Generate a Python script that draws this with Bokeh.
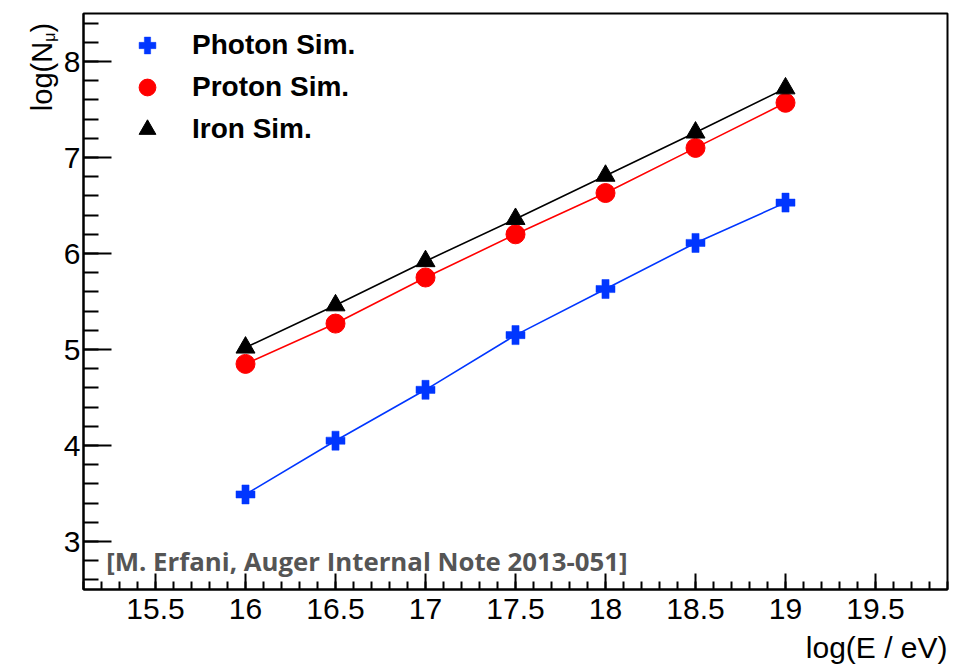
import math
from bokeh.plotting import figure
from bokeh.layouts import row
from bokeh.models import (Label, Legend, LegendItem, SingleIntervalTicker, Title)
from bokeh.embed import file_html
from bokeh.resources import INLINE

# ---- data ----
log_e = [16.0, 16.5, 17.0, 17.5, 18.0, 18.5, 19.0]
photon = [3.49, 4.05, 4.58, 5.15, 5.63, 6.11, 6.53]
proton = [4.85, 5.27, 5.75, 6.20, 6.63, 7.10, 7.57]
iron = [5.02, 5.46, 5.92, 6.36, 6.81, 7.26, 7.72]
series_names = ["Photon Sim.", "Proton Sim.", "Iron Sim."]
x_title = "log(E / eV)"
y_title_main = "log(N"
y_title_sub = "\u03bc"
y_title_close = ")"
note_text = "[M. Erfani, Auger Internal Note 2013-051]"

BLUE = "#0036ff"
RED = "#ff0000"
BLACK = "#000000"
FONT = "Liberation Sans"

YT_W = 60  # width of the strip holding the y-axis title

p = figure(width=953 - YT_W, height=670, x_range=(15.1, 19.9), y_range=(2.5, 8.5),
           output_backend="svg", toolbar_location=None,
           min_border_left=83 - YT_W, min_border_right=6, min_border_top=13,
           min_border_bottom=81)
p.background_fill_color = "white"
p.border_fill_color = "white"
p.grid.visible = False
p.outline_line_color = "black"
p.outline_line_width = 2

# axes
p.xaxis.ticker = SingleIntervalTicker(interval=0.5, num_minor_ticks=5)
p.yaxis.ticker = SingleIntervalTicker(interval=1, num_minor_ticks=5)
for ax in (p.xaxis, p.yaxis):
    ax.axis_line_width = 2
    ax.axis_line_color = "black"
    ax.major_tick_out = 0
    ax.minor_tick_out = 0
    ax.major_tick_line_color = "black"
    ax.minor_tick_line_color = "black"
    ax.major_tick_line_width = 2
    ax.minor_tick_line_width = 2
    ax.major_label_text_font = FONT
    ax.major_label_text_font_size = "30px"
    ax.major_label_text_color = "black"
p.xaxis.major_tick_in = 16
p.xaxis.minor_tick_in = 8
p.yaxis.major_tick_in = 28
p.yaxis.minor_tick_in = 15
p.xaxis.major_label_standoff = 9
p.yaxis.major_label_standoff = 3

# lines
p.line(log_e, photon, line_color=BLUE, line_width=1.6)
p.line(log_e, proton, line_color=RED, line_width=1.6)
p.line(log_e, iron, line_color=BLACK, line_width=1.6)

# markers
r_ph = p.scatter(log_e, photon, marker="plus", size=19, fill_color=BLUE, line_color=BLUE, line_width=0.5)
r_pr = p.scatter(log_e, proton, marker="circle", size=19, fill_color=RED, line_color=RED)
r_fe = p.scatter(log_e, iron, marker="triangle", size=19, fill_color=BLACK, line_color=BLACK)

legend = Legend(items=[LegendItem(label=series_names[0], renderers=[r_ph]),
                       LegendItem(label=series_names[1], renderers=[r_pr]),
                       LegendItem(label=series_names[2], renderers=[r_fe])],
                location=(39, 439), orientation="vertical",
                glyph_width=50, glyph_height=42, label_height=42, spacing=0,
                padding=0, margin=0, label_standoff=20,
                label_text_font=FONT, label_text_font_style="bold",
                label_text_font_size="28px", label_text_color="black",
                border_line_alpha=0, background_fill_alpha=0)
p.add_layout(legend)

# x-axis title, right aligned under the axis
p.add_layout(Title(text=x_title, align="right", text_font=FONT,
                   text_font_style="normal", text_font_size="30px",
                   text_color="black", standoff=14), "below")

# note
p.add_layout(Label(x=15.226, y=2.80, text=note_text, text_align="left",
                   text_baseline="alphabetic", text_font="Open Sans",
                   text_font_style="bold", text_font_size="25.8px",
                   text_color="#555555"))

# strip with the y-axis title (pixel coordinates inside the strip)
yt = figure(width=YT_W, height=670, x_range=(0, YT_W), y_range=(670, 0),
            output_backend="svg", toolbar_location=None, min_border=0,
            x_axis_location=None, y_axis_location=None)
yt.outline_line_color = None
yt.grid.visible = False
yt.background_fill_color = "white"
yt.border_fill_color = "white"
yt.add_layout(Label(x=41, y=33, text=y_title_main, angle=math.pi / 2,
                    text_align="right", text_baseline="alphabetic",
                    text_font=FONT, text_font_size="29px", text_color="black"))
yt.add_layout(Label(x=49, y=22, text=y_title_sub, angle=math.pi / 2,
                    text_align="right", text_baseline="alphabetic",
                    text_font=FONT, text_font_size="16px", text_color="black"))
yt.add_layout(Label(x=41, y=11, text=y_title_close, angle=math.pi / 2,
                    text_align="right", text_baseline="alphabetic",
                    text_font=FONT, text_font_size="29px", text_color="black"))

layout = row(yt, p, spacing=0)
open("out.html", "w").write(file_html(layout, INLINE))
